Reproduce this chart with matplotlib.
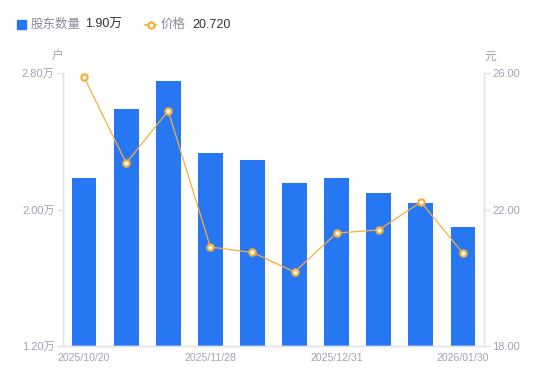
import matplotlib.pyplot as plt
from matplotlib.lines import Line2D

plt.rcParams['font.family'] = ['Liberation Sans', 'Noto Sans CJK SC', 'DejaVu Sans']

# data
dates = ['2025/10/20', '2025/10/31', '2025/11/10', '2025/11/28', '2025/12/10',
         '2025/12/19', '2025/12/31', '2026/01/09', '2026/01/20', '2026/01/30']
holders = [2.185, 2.589, 2.753, 2.331, 2.290, 2.155, 2.185, 2.097, 2.038, 1.900]  # 万户
price = [25.88, 23.36, 24.89, 20.90, 20.74, 20.17, 21.31, 21.40, 22.22, 20.72]
left_ticks = [1.20, 2.00, 2.80]
right_ticks = [18.00, 22.00, 26.00]

blue = '#2776F2'
orange = '#F6AE3C'
grey = '#A3A3B3'
axis_col = '#E3E3E8'

fig = plt.figure(figsize=(5.5, 3.81), dpi=100)
ax = fig.add_axes([63/550, 35/381, 421/550, 273/381])
ax2 = ax.twinx()

x = list(range(len(dates)))
ax.bar(x, holders, width=0.59, color=blue, zorder=2)
ax.set_xlim(-0.5, len(dates) - 0.5)
ax.set_ylim(1.20, 2.80)
ax.set_yticks(left_ticks)
ax.set_yticklabels(['%.2f万' % v for v in left_ticks])

ax2.plot(x, price, color=orange, lw=0.9, marker='o', ms=4.5,
         mfc='white', mec=orange, mew=1.6, zorder=3)
ax2.set_ylim(18, 26)
ax2.set_yticks(right_ticks)
ax2.set_yticklabels(['%.2f' % v for v in right_ticks])

show = [0, 3, 6, 9]
ax.set_xticks(show)
ax.set_xticklabels([dates[i] for i in show])

for a in (ax, ax2):
    a.spines['top'].set_visible(False)
    for s in ('left', 'right', 'bottom'):
        a.spines[s].set_color(axis_col)
        a.spines[s].set_linewidth(1)
    a.tick_params(axis='y', colors=axis_col, labelcolor=grey, labelsize=8,
                  length=4, width=1, pad=2)
    a.tick_params(axis='x', length=0, labelcolor=grey, labelsize=7.6, pad=5)

fig.text(58/550, 1 - 57/381, '户', color=grey, fontsize=8.5, ha='center', va='center')
fig.text(490/550, 1 - 57/381, '元', color=grey, fontsize=8.5, ha='center', va='center')

# legend row at the top
ly = 1 - 24.5/381
fig.patches.append(plt.Rectangle((17/550, ly - 4.5/381), 9/550, 9/381,
                                 transform=fig.transFigure, color=blue))
fig.text(31/550, ly, '股东数量', color='#8A8A99', fontsize=9, va='center')
fig.text(85/550, ly, '1.90万', color='#333333', fontsize=9, va='center')
fig.lines.append(Line2D([145/550, 156/550], [ly, ly],
                        transform=fig.transFigure, color=orange, lw=1.2))
fig.lines.append(Line2D([150.5/550], [ly], transform=fig.transFigure,
                        marker='o', ms=4.5, mfc='white', mec=orange, mew=1.6,
                        color=orange))
fig.text(161/550, ly, '价格', color='#8A8A99', fontsize=9, va='center')
fig.text(192/550, ly, '20.720', color='#333333', fontsize=9, va='center')

plt.savefig('out.png', dpi=100)
